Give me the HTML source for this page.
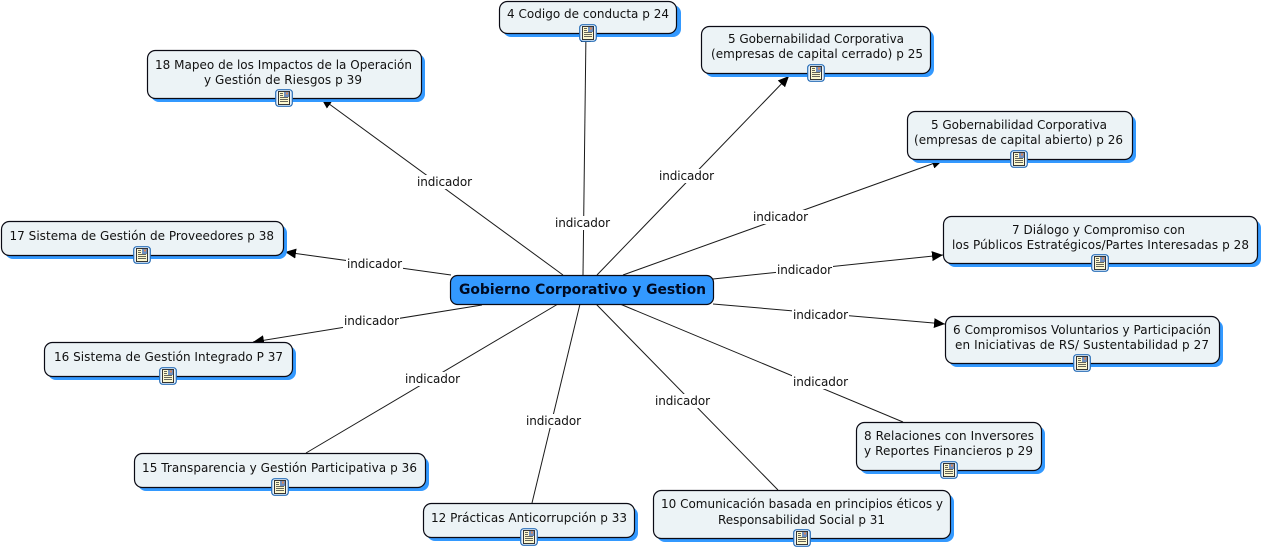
<!DOCTYPE html>
<html><head><meta charset="utf-8"><style>
html,body{margin:0;padding:0;background:#fff}
svg{display:block}
text{font-family:"DejaVu Sans","Liberation Sans",sans-serif;font-size:12px;fill:#111}
.m{font-weight:bold;font-size:14px;fill:#000a20}
.n{fill:#ecf3f6;stroke:#0a0a14;stroke-width:1.2}
.s{fill:#3399ff}
.l{stroke:#1a1a1a;stroke-width:1;fill:none}
.b{fill:#fff}
</style></head><body>
<svg width="1262" height="549" viewBox="0 0 1262 549" xmlns="http://www.w3.org/2000/svg">
<defs>
<marker id="a" markerUnits="userSpaceOnUse" markerWidth="12" markerHeight="12" refX="11" refY="6" orient="auto"><path d="M0 1L11 6L0 11Z" fill="#000"/></marker>
<symbol id="i" width="18" height="18" viewBox="0 0 18 18" overflow="visible">
<rect x=".7" y=".7" width="16.6" height="16.600" rx="3" fill="#e8f2fb" stroke="#2a6fb8" stroke-width="1.200"/>
<rect x="3.500" y="2.500" width="11" height="13" fill="#fdf8cf" stroke="#222" stroke-width=".9"/>
<rect x="9" y="3" width="5" height="5" fill="#6f8fc0"/>
<rect x="11" y="3.500" width="2" height="2" fill="#d9885a"/>
<path d="M5 4.500H8M5 6.500H8M5 8.500H13M5 10.500H13M5 12.500H13" stroke="#333" stroke-width=".7"/>
</symbol>
</defs>
<g class="l">
<path d="M563 275L321 98" marker-end="url(#a)"/>
<path d="M583 275L586 31" marker-end="url(#a)"/>
<path d="M597 275L789 76" marker-end="url(#a)"/>
<path d="M623 275L943 160" marker-end="url(#a)"/>
<path d="M713 279L943 255" marker-end="url(#a)"/>
<path d="M713 304L945 324" marker-end="url(#a)"/>
<path d="M620 304L903 422"/>
<path d="M596 304L778 490"/>
<path d="M580 304L532 503"/>
<path d="M558 304L306 453"/>
<path d="M482 305L253 342" marker-end="url(#a)"/>
<path d="M451 275L285 252" marker-end="url(#a)"/>
</g>
<g class="b">
<rect x="416" y="175" width="57" height="14"/>
<rect x="554" y="216" width="57" height="14"/>
<rect x="658" y="169" width="57" height="14"/>
<rect x="752" y="210" width="57" height="14"/>
<rect x="776" y="263" width="57" height="14"/>
<rect x="792" y="308" width="57" height="14"/>
<rect x="792" y="375" width="57" height="14"/>
<rect x="654" y="394" width="57" height="14"/>
<rect x="525" y="414" width="57" height="14"/>
<rect x="404" y="372" width="57" height="14"/>
<rect x="343" y="314" width="57" height="14"/>
<rect x="346" y="257" width="57" height="14"/>
</g>
<g>
<text x="417" y="186" textLength="55">indicador</text>
<text x="555" y="227" textLength="55">indicador</text>
<text x="659" y="180" textLength="55">indicador</text>
<text x="753" y="221" textLength="55">indicador</text>
<text x="777" y="274" textLength="55">indicador</text>
<text x="793" y="319" textLength="55">indicador</text>
<text x="793" y="386" textLength="55">indicador</text>
<text x="655" y="405" textLength="55">indicador</text>
<text x="526" y="425" textLength="55">indicador</text>
<text x="405" y="383" textLength="55">indicador</text>
<text x="344" y="325" textLength="55">indicador</text>
<text x="347" y="268" textLength="55">indicador</text>
</g>
<!-- main -->
<rect x="450.500" y="275.500" width="263" height="29" rx="7" fill="#3399ff" stroke="#0a0a14" stroke-width="1.200"/>
<text class="m" x="459" y="294" textLength="247" lengthAdjust="spacingAndGlyphs">Gobierno Corporativo y Gestion</text>
<!-- 4 -->
<rect class="s" x="503" y="5" width="178" height="32" rx="8"/><rect class="n" x="499.500" y="1.500" width="177" height="32" rx="8"/>
<text x="507" y="18" textLength="162">4 Codigo de conducta p 24</text>
<use href="#i" x="579" y="24"/>
<!-- 5a -->
<rect class="s" x="705" y="30" width="229" height="47" rx="8"/><rect class="n" x="701.500" y="26.500" width="229" height="47" rx="8"/>
<text x="728" y="43" textLength="176">5 Gobernabilidad Corporativa</text>
<text x="711" y="58" textLength="212">(empresas de capital cerrado) p 25</text>
<use href="#i" x="807" y="64"/>
<!-- 5b -->
<rect class="s" x="911" y="115" width="225" height="48" rx="8"/><rect class="n" x="907.500" y="111.500" width="225" height="48" rx="8"/>
<text x="931" y="129" textLength="176">5 Gobernabilidad Corporativa</text>
<text x="914" y="144" textLength="209">(empresas de capital abierto) p 26</text>
<use href="#i" x="1010" y="150"/>
<!-- 7 -->
<rect class="s" x="947" y="220" width="314" height="47" rx="8"/><rect class="n" x="943.500" y="216.500" width="314" height="47" rx="8"/>
<text x="1012" y="234" textLength="173">7 Diálogo y Compromiso con</text>
<text x="952" y="249" textLength="297">los Públicos Estratégicos/Partes Interesadas p 28</text>
<use href="#i" x="1091" y="254"/>
<!-- 6 -->
<rect class="s" x="949" y="320" width="274" height="47" rx="8"/><rect class="n" x="945.500" y="316.500" width="274" height="47" rx="8"/>
<text x="953" y="334" textLength="258">6 Compromisos Voluntarios y Participación</text>
<text x="955" y="349" textLength="254">en Iniciativas de RS/ Sustentabilidad p 27</text>
<use href="#i" x="1073" y="354"/>
<!-- 8 -->
<rect class="s" x="860" y="426" width="185" height="48" rx="8"/><rect class="n" x="856.500" y="422.500" width="185" height="48" rx="8"/>
<text x="864" y="440" textLength="170">8 Relaciones con Inversores</text>
<text x="864" y="455" textLength="169">y Reportes Financieros p 29</text>
<use href="#i" x="940" y="461"/>
<!-- 10 -->
<rect class="s" x="657" y="494" width="297" height="48" rx="8"/><rect class="n" x="653.500" y="490.500" width="297" height="48" rx="8"/>
<text x="661" y="508" textLength="282">10 Comunicación basada en principios éticos y</text>
<text x="718" y="524" textLength="167">Responsabilidad Social p 31</text>
<use href="#i" x="793" y="529"/>
<!-- 12 -->
<rect class="s" x="427" y="507" width="211" height="34" rx="8"/><rect class="n" x="423.500" y="503.500" width="211" height="34" rx="8"/>
<text x="431" y="522" textLength="196">12 Prácticas Anticorrupción p 33</text>
<use href="#i" x="520" y="528"/>
<!-- 15 -->
<rect class="s" x="138" y="457" width="291" height="34" rx="8"/><rect class="n" x="134.500" y="453.500" width="291" height="34" rx="8"/>
<text x="142" y="472" textLength="275">15 Transparencia y Gestión Participativa p 36</text>
<use href="#i" x="271" y="478"/>
<!-- 16 -->
<rect class="s" x="48" y="346" width="248" height="34" rx="8"/><rect class="n" x="44.500" y="342.500" width="248" height="34" rx="8"/>
<text x="54" y="361" textLength="229">16 Sistema de Gestión Integrado P 37</text>
<use href="#i" x="159" y="367"/>
<!-- 17 -->
<rect class="s" x="5" y="225" width="282" height="34" rx="8"/><rect class="n" x="1.500" y="221.500" width="282" height="34" rx="8"/>
<text x="9.500" y="240" textLength="264.500">17 Sistema de Gestión de Proveedores p 38</text>
<use href="#i" x="133" y="246"/>
<!-- 18 -->
<rect class="s" x="151" y="54" width="274" height="48" rx="8"/><rect class="n" x="147.500" y="50.500" width="274" height="48" rx="8"/>
<text x="155" y="69" textLength="257">18 Mapeo de los Impactos de la Operación</text>
<text x="204" y="84" textLength="158">y Gestión de Riesgos p 39</text>
<use href="#i" x="275" y="89"/>
</svg>
</body></html>
